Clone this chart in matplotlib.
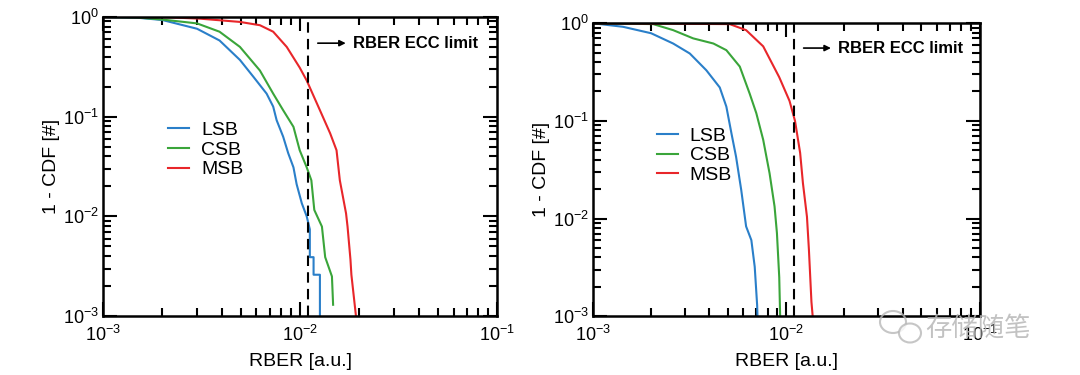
import numpy as np
import matplotlib
matplotlib.use("Agg")
import matplotlib.pyplot as plt
from matplotlib.patches import Ellipse

plt.rcParams["font.family"] = ["Liberation Sans", "DejaVu Sans"]
plt.rcParams["mathtext.default"] = "regular"

ECC_LIMIT = 1.1e-2

# left panel
left_lsb_x = [1.0e-3, 1.5e-3, 2.0e-3, 3.0e-3, 3.9e-3, 4.95e-3, 5.8e-3, 6.76e-3, 7.3e-3, 7.6e-3,
              8.2e-3, 8.7e-3, 9.25e-3, 9.6e-3, 1.02e-2, 1.08e-2, 1.12e-2, 1.12e-2, 1.17e-2, 1.17e-2,
              1.26e-2, 1.26e-2]
left_lsb_y = [1.0, 0.98, 0.93, 0.76, 0.58, 0.37, 0.25, 0.17, 0.126, 0.092,
              0.063, 0.043, 0.031, 0.021, 0.0135, 0.0100, 0.0074, 0.0039, 0.0039, 0.0026,
              0.0026, 0.001]
left_csb_x = [1.0e-3, 1.5e-3, 2.0e-3, 3.0e-3, 3.9e-3, 4.95e-3, 6.25e-3, 7.3e-3, 8.2e-3, 9.25e-3,
              9.95e-3, 1.08e-2, 1.14e-2, 1.18e-2, 1.29e-2, 1.34e-2, 1.34e-2, 1.45e-2, 1.45e-2, 1.47e-2]
left_csb_y = [1.0, 0.985, 0.94, 0.86, 0.71, 0.50, 0.29, 0.17, 0.116, 0.079,
              0.046, 0.031, 0.023, 0.0116, 0.0079, 0.0039, 0.0039, 0.0025, 0.0025, 0.0013]
left_msb_x = [1.0e-3, 2.0e-3, 3.1e-3, 4.95e-3, 6.25e-3, 7.3e-3, 8.55e-3, 9.95e-3, 1.08e-2, 1.26e-2,
              1.42e-2, 1.53e-2, 1.59e-2, 1.71e-2, 1.74e-2, 1.80e-2, 1.82e-2, 1.92e-2]
left_msb_y = [1.0, 0.995, 0.96, 0.89, 0.825, 0.71, 0.50, 0.31, 0.23, 0.116,
              0.068, 0.046, 0.023, 0.0107, 0.0079, 0.0037, 0.0026, 0.001]

# right panel
right_lsb_x = [1.0e-3, 1.43e-3, 2.0e-3, 2.6e-3, 3.17e-3, 3.86e-3, 4.53e-3, 4.9e-3, 5.21e-3, 5.5e-3,
               5.85e-3, 6.2e-3, 6.6e-3, 6.87e-3, 7.07e-3, 7.1e-3]
right_lsb_y = [1.0, 0.92, 0.79, 0.62, 0.49, 0.33, 0.22, 0.14, 0.074, 0.043,
               0.0196, 0.0083, 0.006, 0.0032, 0.0013, 0.001]
right_csb_x = [1.0e-3, 2.05e-3, 2.6e-3, 3.3e-3, 4.2e-3, 4.9e-3, 5.75e-3, 6.47e-3, 7.0e-3, 7.6e-3,
               8.2e-3, 8.7e-3, 8.95e-3, 9.2e-3, 9.3e-3]
right_csb_y = [1.0, 0.98, 0.85, 0.70, 0.62, 0.53, 0.36, 0.19, 0.12, 0.064,
               0.029, 0.0133, 0.0071, 0.0025, 0.001]
right_msb_x = [1.0e-3, 5.1e-3, 6.2e-3, 7.6e-3, 9.2e-3, 1.04e-2, 1.11e-2, 1.18e-2, 1.22e-2, 1.28e-2,
               1.31e-2, 1.35e-2, 1.37e-2]
right_msb_y = [1.0, 0.98, 0.85, 0.58, 0.28, 0.16, 0.10, 0.047, 0.023, 0.0104,
               0.0048, 0.0014, 0.001]

labels = ["LSB", "CSB", "MSB"]
colors = ["#2a7fc9", "#3aa53a", "#e8262a"]


def style_axis(ax):
    ax.set_xscale("log")
    ax.set_yscale("log")
    ax.set_xlim(1e-3, 1e-1)
    ax.set_ylim(1e-3, 1)
    ax.tick_params(which="both", direction="in", top=True, right=True, labelsize=13, width=1.5)
    ax.tick_params(which="major", length=10)
    ax.tick_params(which="minor", length=6)
    ax.tick_params(axis="x", which="major", pad=6)
    ax.tick_params(axis="y", which="major", pad=3)
    for sp in ax.spines.values():
        sp.set_linewidth(1.8)
    ax.set_xlabel("RBER [a.u.]", fontsize=14, labelpad=6)
    ax.set_ylabel("1 - CDF [#]", fontsize=14, labelpad=2)


fig = plt.figure(figsize=(10.8, 3.75), dpi=100)
ax1 = fig.add_axes([0.0954, 0.157, 0.365, 0.798])
ax2 = fig.add_axes([0.549, 0.157, 0.358, 0.781])

panels = [
    (ax1, [(left_lsb_x, left_lsb_y), (left_csb_x, left_csb_y), (left_msb_x, left_msb_y)], 0.545, 0.65),
    (ax2, [(right_lsb_x, right_lsb_y), (right_csb_x, right_csb_y), (right_msb_x, right_msb_y)], 0.557, 0.645),
]

for ax, series, ytxt, leg_y in panels:
    style_axis(ax)
    for (xs, ys), lab, c in zip(series, labels, colors):
        ax.plot(xs, ys, color=c, lw=1.5, label=lab)
    ax.axvline(ECC_LIMIT, color="black", lw=1.5, dashes=(5, 3))
    ax.annotate("", xy=(1.76e-2, ytxt), xytext=(1.19e-2, ytxt),
                arrowprops=dict(arrowstyle="-|>", lw=1.2, color="black", mutation_scale=9))
    ax.text(1.86e-2, ytxt, "RBER ECC limit", fontsize=12, fontweight="bold", va="center", ha="left")
    ax.legend(loc="upper left", bbox_to_anchor=(0.165, leg_y), frameon=False, fontsize=14,
              handlelength=1.1, handletextpad=0.6, labelspacing=0.1, borderpad=0, borderaxespad=0)

# watermark (wechat logo + name)
wm = "#b8b8b8"
fig.patches.append(Ellipse((893 / 1080, 1 - 322 / 375), 26 / 1080, 22 / 375, transform=fig.transFigure,
                           fill=False, ec=wm, lw=1.5, alpha=0.8))
fig.patches.append(Ellipse((910 / 1080, 1 - 333 / 375), 22 / 1080, 19 / 375, transform=fig.transFigure,
                           fc="white", ec=wm, lw=1.5, alpha=0.8))
fig.text(0.857, 0.125, "存储随笔", fontsize=19, color=wm, alpha=0.85,
         family=["Noto Sans CJK SC", "DejaVu Sans"], va="center", ha="left")

fig.savefig("out.png", dpi=100)
